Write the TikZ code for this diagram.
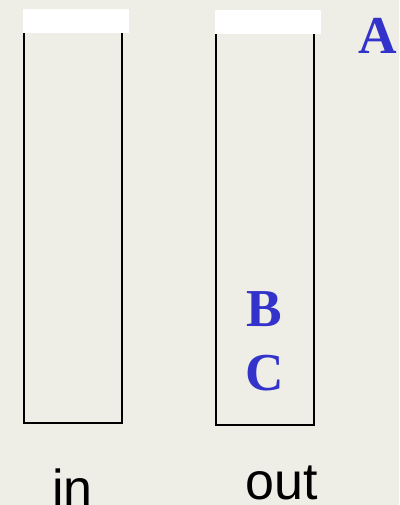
\documentclass[tikz,border=0pt]{standalone}
\usepackage{fontspec}
\setmainfont{Liberation Serif}
\setsansfont{Liberation Sans}
\usepackage{xcolor}
\definecolor{paper}{RGB}{239,238,230}
\definecolor{letterblue}{RGB}{51,51,204}

\begin{document}
\begin{tikzpicture}[x=0.75pt, y=-0.75pt,
    tube/.style={draw=black, line width=1.5pt, inner sep=0pt, minimum width=74pt, minimum height=302pt},
    tubecap/.style={fill=white, inner sep=0pt, minimum width=79.5pt, minimum height=18pt},
    letter/.style={text=letterblue, font=\fontsize{40}{48}\selectfont\bfseries, anchor=base, inner sep=0pt},
    label/.style={font=\fontsize{39}{46}\selectfont\sffamily, anchor=base, inner sep=0pt}]
    \fill[paper] (0,0) rectangle (399,505);
    \useasboundingbox (0,0) rectangle (399,505);

    \node[tube] (tin) at (73,221.5) {};
    \node[tube] (tout) at (265,223.5) {};
    \node[tubecap] (capin) at (76,21) {};
    \node[tubecap] (capout) at (268,22) {};

    \node[letter] (a) at (377.5,54) {A};
    \node[letter] (b) at (264,326) {B};
    \node[letter] (c) at (265,390) {C};

    \node[label] (in) at (72.5,506) {in};
    \node[label] (out) at (281.5,499) {out};
\end{tikzpicture}
\end{document}
